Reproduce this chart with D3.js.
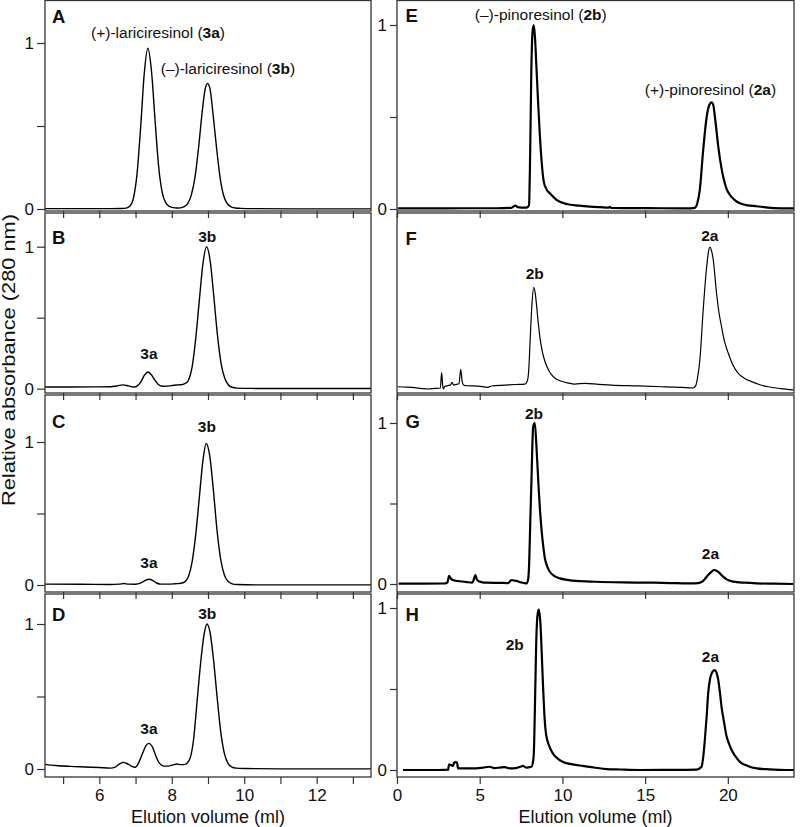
<!DOCTYPE html>
<html><head><meta charset="utf-8">
<script src="https://cdn.jsdelivr.net/npm/d3@7"></script>
<style>
body{margin:0;background:#fff}
svg{display:block}
text{font-family:"Liberation Sans",Arial,Helvetica,sans-serif;fill:#111}
</style>
</head><body>
<svg id="c" width="800" height="827"></svg>
<script>
// ---------------- DATA (elution volume in ml, relative absorbance) ----------------
const traceA = [[4.5,0.002],[5.5,0.002],[6.3,0.002],[6.6,0.003],[6.74,0.005],[6.84,0.016],[6.94,0.064],[7.04,0.21],[7.14,0.49],[7.24,0.815],[7.34,0.968],[7.44,0.83],[7.54,0.53],[7.64,0.25],[7.74,0.095],[7.84,0.035],[7.94,0.015],[8.04,0.008],[8.14,0.006],[8.24,0.007],[8.34,0.014],[8.44,0.032],[8.54,0.085],[8.64,0.19],[8.74,0.37],[8.84,0.585],[8.92,0.72],[8.98,0.757],[9.05,0.73],[9.14,0.57],[9.24,0.36],[9.34,0.18],[9.44,0.075],[9.54,0.03],[9.64,0.013],[9.76,0.006],[9.9,0.004],[10.3,0.002],[11.5,0.001],[13.5,0.001]];
const traceB = [[4.5,0.012],[5.2,0.012],[5.9,0.013],[6.3,0.014],[6.5,0.02],[6.65,0.027],[6.8,0.02],[6.95,0.012],[7.05,0.02],[7.15,0.05],[7.25,0.097],[7.34,0.118],[7.43,0.1],[7.53,0.062],[7.63,0.03],[7.75,0.017],[7.9,0.018],[8.05,0.024],[8.18,0.027],[8.3,0.03],[8.38,0.038],[8.46,0.06],[8.56,0.15],[8.66,0.35],[8.76,0.62],[8.86,0.88],[8.96,1.0],[9.06,0.9],[9.16,0.65],[9.26,0.38],[9.36,0.18],[9.46,0.075],[9.56,0.028],[9.66,0.01],[9.8,0.004],[10.2,0.002],[11,0.001],[13.5,0.001]];
const traceC = [[4.5,0.006],[5.5,0.005],[6.3,0.004],[6.55,0.006],[6.68,0.01],[6.8,0.006],[7.0,0.005],[7.15,0.015],[7.27,0.032],[7.37,0.04],[7.47,0.032],[7.58,0.014],[7.7,0.006],[7.9,0.006],[8.1,0.009],[8.25,0.012],[8.36,0.022],[8.46,0.06],[8.56,0.16],[8.66,0.35],[8.76,0.61],[8.86,0.87],[8.95,0.99],[9.05,0.9],[9.15,0.66],[9.25,0.38],[9.35,0.18],[9.45,0.072],[9.55,0.027],[9.65,0.01],[9.8,0.003],[10.5,0.001],[13.5,0.001]];
const traceD = [[4.5,0.032],[4.8,0.024],[5.2,0.018],[5.6,0.014],[6.0,0.01],[6.3,0.006],[6.45,0.015],[6.56,0.035],[6.66,0.046],[6.76,0.038],[6.88,0.02],[6.99,0.012],[7.08,0.04],[7.18,0.1],[7.28,0.158],[7.37,0.177],[7.46,0.155],[7.56,0.09],[7.66,0.04],[7.78,0.02],[7.9,0.02],[8.03,0.028],[8.14,0.034],[8.26,0.03],[8.37,0.032],[8.44,0.045],[8.52,0.085],[8.6,0.2],[8.7,0.47],[8.8,0.74],[8.9,0.94],[8.97,1.0],[9.05,0.95],[9.15,0.76],[9.25,0.5],[9.35,0.26],[9.45,0.11],[9.55,0.04],[9.65,0.015],[9.78,0.006],[10.0,0.003],[11.0,0.001],[13.5,0.001]];
const traceE = [[0.05,0.003],[2,0.003],[4,0.004],[6,0.004],[6.9,0.006],[7.05,0.014],[7.15,0.018],[7.3,0.01],[7.5,0.008],[7.85,0.008],[7.98,0.02],[8.05,0.3],[8.12,0.75],[8.2,0.97],[8.27,1.0],[8.35,0.92],[8.43,0.77],[8.53,0.58],[8.63,0.41],[8.75,0.25],[8.87,0.15],[9.05,0.105],[9.24,0.085],[9.64,0.05],[10.25,0.027],[11,0.018],[11.66,0.013],[12.3,0.01],[12.8,0.008],[12.87,0.012],[12.95,0.006],[14,0.005],[16,0.004],[17.5,0.003],[18.0,0.006],[18.15,0.03],[18.3,0.1],[18.51,0.32],[18.72,0.5],[18.88,0.565],[19.02,0.58],[19.12,0.565],[19.22,0.5],[19.42,0.34],[19.6,0.23],[19.72,0.175],[19.9,0.115],[20.13,0.076],[20.4,0.05],[20.73,0.031],[21.2,0.02],[21.74,0.015],[22.3,0.009],[22.75,0.005],[24,0.003]];
const traceF = [[0.06,0.009],[0.6,0.006],[1.07,0.002],[1.5,-0.004],[1.88,-0.007],[2.3,-0.003],[2.62,0.0],[2.7,0.109],[2.76,0.02],[2.8,-0.007],[2.89,0.01],[3.1,0.018],[3.22,0.02],[3.33,0.04],[3.42,0.021],[3.6,0.026],[3.75,0.03],[3.85,0.133],[3.95,0.04],[4.05,0.02],[4.2,0.016],[4.9,0.014],[5.3,0.008],[5.5,0.005],[5.71,0.014],[6.5,0.02],[7.2,0.025],[7.73,0.028],[7.88,0.05],[7.96,0.12],[8.05,0.34],[8.15,0.58],[8.27,0.714],[8.37,0.66],[8.45,0.57],[8.55,0.45],[8.65,0.35],[8.8,0.25],[8.94,0.19],[9.15,0.13],[9.34,0.095],[9.6,0.065],[9.95,0.048],[10.35,0.035],[10.75,0.028],[11.36,0.033],[12.2,0.026],[12.97,0.021],[14.5,0.015],[16.0,0.009],[17.2,0.004],[17.9,0.0],[18.05,0.015],[18.15,0.06],[18.31,0.2],[18.51,0.553],[18.72,0.86],[18.85,0.98],[18.92,1.0],[19.0,0.98],[19.12,0.908],[19.32,0.67],[19.47,0.53],[19.62,0.435],[19.8,0.33],[20.03,0.246],[20.3,0.165],[20.63,0.104],[21.0,0.07],[21.44,0.045],[21.9,0.025],[22.44,0.009],[23.2,-0.004],[23.96,-0.014]];
const traceG = [[0.1,0.002],[1.5,0.002],[2.9,0.003],[3.05,0.01],[3.15,0.05],[3.22,0.04],[3.3,0.028],[3.39,0.025],[3.55,0.02],[3.79,0.017],[4.2,0.012],[4.55,0.009],[4.65,0.03],[4.74,0.056],[4.82,0.03],[4.9,0.019],[5.1,0.012],[5.41,0.008],[6.2,0.007],[6.72,0.006],[6.85,0.02],[6.92,0.025],[7.05,0.022],[7.22,0.019],[7.5,0.01],[7.83,0.004],[7.93,0.03],[7.99,0.128],[8.06,0.4],[8.13,0.646],[8.18,0.85],[8.23,0.977],[8.33,1.0],[8.43,0.853],[8.5,0.72],[8.57,0.584],[8.65,0.45],[8.74,0.335],[8.84,0.235],[8.94,0.16],[9.08,0.11],[9.24,0.076],[9.5,0.05],[9.84,0.035],[10.3,0.026],[10.85,0.019],[12,0.014],[13.67,0.01],[15.5,0.008],[16.5,0.006],[17.71,0.004],[18.2,0.006],[18.41,0.012],[18.6,0.03],[18.81,0.056],[19.0,0.075],[19.15,0.087],[19.25,0.085],[19.38,0.078],[19.52,0.066],[19.7,0.047],[19.93,0.029],[20.2,0.018],[20.53,0.012],[21,0.008],[21.74,0.004],[22.8,0.002],[23.96,0.0]];
const traceH = [[0.36,0.0],[1.5,0.0],[2.5,0.0],[3.09,0.002],[3.15,0.035],[3.22,0.032],[3.28,0.03],[3.39,0.025],[3.45,0.045],[3.55,0.048],[3.63,0.045],[3.69,0.01],[4.2,0.01],[4.8,0.01],[5.2,0.015],[5.61,0.02],[5.9,0.012],[6.21,0.015],[6.5,0.018],[6.82,0.01],[7.2,0.012],[7.45,0.02],[7.62,0.025],[7.8,0.015],[8.13,0.02],[8.22,0.05],[8.27,0.1],[8.32,0.3],[8.37,0.556],[8.42,0.8],[8.47,0.926],[8.52,0.975],[8.57,0.99],[8.62,0.96],[8.67,0.905],[8.75,0.72],[8.83,0.514],[8.9,0.36],[8.98,0.247],[9.05,0.2],[9.14,0.165],[9.3,0.125],[9.44,0.1],[9.7,0.072],[10.04,0.05],[10.6,0.035],[11.25,0.025],[12.0,0.014],[12.67,0.006],[13.5,0.003],[14.68,0.0],[16,0.001],[17.5,0.001],[18.11,0.002],[18.41,0.02],[18.5,0.07],[18.61,0.185],[18.72,0.33],[18.81,0.473],[18.92,0.56],[19.02,0.597],[19.12,0.612],[19.22,0.617],[19.32,0.6],[19.42,0.556],[19.52,0.48],[19.62,0.39],[19.78,0.29],[19.93,0.205],[20.08,0.16],[20.23,0.123],[20.45,0.085],[20.73,0.05],[21.2,0.025],[21.74,0.01],[22.5,0.004],[23.55,0.0],[24,0.0]];

const leftXDomain = [4.5, 13.5];
const rightXDomain = [0, 24];
const leftXTicks = [5,6,7,8,9,10,11,12,13];
const leftXTickLabels = [6,8,10,12];
const rightXTicks = [0,5,10,15,20];
const yTickValues = [0, 0.5, 1];
const yTickLabels = [0, 1];
const xTitle = "Elution volume (ml)";
const yTitle = "Relative absorbance (280 nm)";

// peak annotations: [x (ml), y (rel. abs.), [text parts; bold parts flagged]]
const labelsA = [[7.62,1.06,[["(+)-lariciresinol (",0],["3a",1],[")",0]]],[9.55,0.843,[["(\u2013)-lariciresinol (",0],["3b",1],[")",0]]]];
const labelsB = [[8.98,1.07,[["3b",1]]],[7.37,0.244,[["3a",1]]]];
const labelsC = [[8.97,1.105,[["3b",1]]],[7.37,0.154,[["3a",1]]]];
const labelsD = [[8.98,1.074,[["3b",1]]],[7.37,0.276,[["3a",1]]]];
const labelsE = [[8.69,1.054,[["(\u2013)-pinoresinol (",0],["2b",1],[")",0]]],[18.95,0.65,[["(+)-pinoresinol (",0],["2a",1],[")",0]]]];
const labelsF = [[8.33,0.813,[["2b",1]]],[18.91,1.078,[["2a",1]]]];
const labelsG = [[8.28,1.06,[["2b",1]]],[18.95,0.186,[["2a",1]]]];
const labelsH = [[7.12,0.772,[["2b",1]]],[18.95,0.70,[["2a",1]]]];

// ---------------- LAYOUT ----------------
const cols = { L:{x0:45, x1:371, dom:leftXDomain, ticks:leftXTicks, tickLabels:leftXTickLabels},
               R:{x0:397, x1:794, dom:rightXDomain, ticks:rightXTicks, tickLabels:rightXTicks} };
const panels = [
  {key:"A", col:"L", top:0.5, bottom:211, y0:209, y1:43,  trace:traceA, lw:1.4, yAxis:true,  xLab:false, labels:labelsA, ly:17},
  {key:"B", col:"L", top:213, bottom:393, y0:388.7, y1:246.7, trace:traceB, lw:1.4, yAxis:true, xLab:false, labels:labelsB, ly:238},
  {key:"C", col:"L", top:395, bottom:592, y0:585, y1:442, trace:traceC, lw:1.4, yAxis:true, xLab:false, labels:labelsC, ly:421.7},
  {key:"D", col:"L", top:594, bottom:777, y0:769, y1:624, trace:traceD, lw:1.4, yAxis:true, xLab:true, labels:labelsD, ly:615},
  {key:"E", col:"R", top:0.5, bottom:211, y0:209, y1:25,  trace:traceE, lw:2.2, yAxis:true, xLab:false, labels:labelsE, ly:16},
  {key:"F", col:"R", top:213, bottom:393, y0:388, y1:247, trace:traceF, lw:1.2, yAxis:false, xLab:false, labels:labelsF, ly:238.3},
  {key:"G", col:"R", top:395, bottom:592, y0:584, y1:423, trace:traceG, lw:2.2, yAxis:true, xLab:false, labels:labelsG, ly:421.7},
  {key:"H", col:"R", top:594, bottom:777, y0:770, y1:608, trace:traceH, lw:2.2, yAxis:true, xLab:true, labels:labelsH, ly:615}
];

const svg = d3.select("#c");
const defs = svg.append("defs");

panels.forEach((p,i) => {
  const c = cols[p.col];
  const x = d3.scaleLinear().domain(c.dom).range([c.x0, c.x1]);
  const y = d3.scaleLinear().domain([0,1]).range([p.y0, p.y1]);
  const g = svg.append("g");

  defs.append("clipPath").attr("id","clip"+i).append("rect")
    .attr("x", c.x0).attr("y", p.top).attr("width", c.x1-c.x0).attr("height", p.bottom-p.top);

  // trace
  const line = d3.line().x(d=>x(d[0])).y(d=>y(d[1])).curve(d3.curveMonotoneX);
  g.append("path").datum(p.trace).attr("d", line)
    .attr("clip-path","url(#clip"+i+")")
    .attr("fill","none").attr("stroke","#000").attr("stroke-width",p.lw)
    .attr("stroke-linejoin","round");

  // frame
  g.append("rect").attr("x", c.x0).attr("y", p.top).attr("width", c.x1-c.x0).attr("height", p.bottom-p.top)
    .attr("fill","none").attr("stroke","#333").attr("stroke-width",1.3);

  // y axis
  if (p.yAxis) {
    const ya = d3.axisLeft(y).tickValues(yTickValues).tickSize(p.col==="L"?8:7).tickPadding(3)
      .tickFormat(v => yTickLabels.includes(v) ? d3.format("d")(v) : "");
    const yg = g.append("g").attr("transform",`translate(${c.x0},0)`).call(ya);
    yg.select(".domain").remove();
    yg.selectAll("line").attr("stroke","#333").attr("stroke-width",1.2);
    yg.selectAll("text").attr("font-size",17).attr("font-family","Liberation Sans, Arial, sans-serif").attr("fill","#111");
  }

  // x axis (ticks outward at panel bottom)
  const xa = d3.axisBottom(x).tickValues(c.ticks).tickSize(7).tickPadding(5)
    .tickFormat(v => (p.xLab && c.tickLabels.includes(v)) ? d3.format("d")(v) : "");
  const xg = g.append("g").attr("transform",`translate(0,${p.bottom})`).call(xa);
  xg.select(".domain").remove();
  xg.selectAll("line").attr("stroke","#333").attr("stroke-width",1.2);
  xg.selectAll("text").attr("font-size",17).attr("font-family","Liberation Sans, Arial, sans-serif").attr("fill","#111");

  // panel letter
  g.append("text").attr("x", c.x0+ (p.col==="L"?7:8.5)).attr("y", p.ly).attr("dy","0.35em")
    .attr("font-size",18.5).attr("font-weight","bold").text(p.key);

  // peak annotations
  p.labels.forEach(l => {
    const t = g.append("text").attr("x", x(l[0])).attr("y", y(l[1])).attr("dy","0.35em")
      .attr("text-anchor","middle").attr("font-size",15.5);
    l[2].forEach(part => t.append("tspan").attr("font-weight", part[1] ? "bold":"normal").text(part[0]));
  });
});

// axis titles
svg.append("text").attr("x", (cols.L.x0+cols.L.x1)/2).attr("y", 817).attr("dy","0.35em")
  .attr("text-anchor","middle").attr("font-size",18).text(xTitle);
svg.append("text").attr("x", (cols.R.x0+cols.R.x1)/2).attr("y", 817).attr("dy","0.35em")
  .attr("text-anchor","middle").attr("font-size",18).text(xTitle);
svg.append("text").attr("transform","translate(9,360) rotate(-90)").attr("dy","0.35em")
  .attr("text-anchor","middle").attr("font-size",18)
  .attr("textLength",292).attr("lengthAdjust","spacingAndGlyphs").text(yTitle);
</script>
</body></html>
